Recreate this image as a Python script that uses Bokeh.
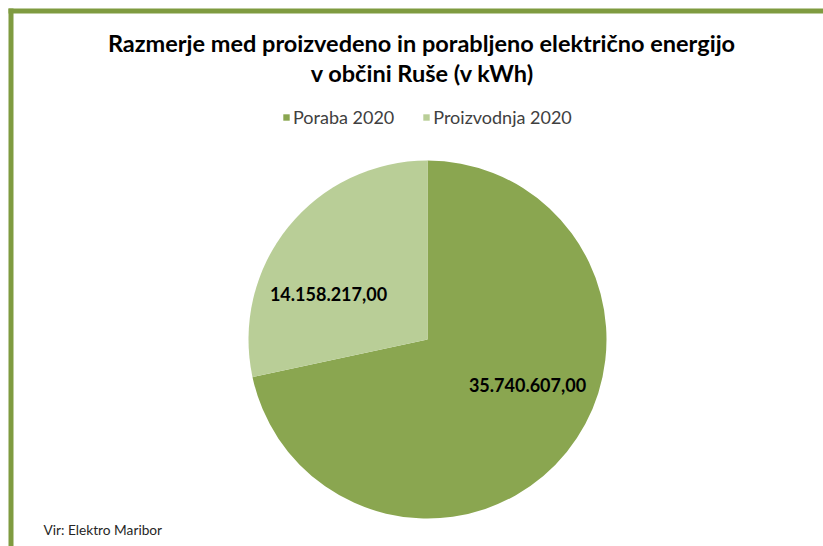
import math
from bokeh.plotting import figure
from bokeh.models import Range1d, Legend, LegendItem, ColumnDataSource, Label, BoxAnnotation
from bokeh.embed import file_html
from bokeh.resources import INLINE

# ---- data ----
categories = ["Poraba 2020", "Proizvodnja 2020"]
values_kwh = [35740607.00, 14158217.00]
value_labels = ["35.740.607,00", "14.158.217,00"]
colors = ["#8AA650", "#B9CE97"]

title_lines = ["Razmerje med proizvedeno in porabljeno električno energijo",
               "v občini Ruše (v kWh)"]
source_note = "Vir: Elektro Maribor"

# ---- layout ----
W, H = 823, 546
FONT = "Lato"
cx, cy, R = 427, H - 339, 179

total = sum(values_kwh)
starts, ends = [], []
a = math.pi / 2
for v in values_kwh:
    starts.append(a)
    a = a - v / total * 2 * math.pi
    ends.append(a)

src = ColumnDataSource(dict(cat=categories, val=values_kwh, start=starts, end=ends,
                            color=colors, lab=value_labels))

p = figure(width=W, height=H, output_backend="svg", toolbar_location=None,
           x_range=Range1d(0, W), y_range=Range1d(0, H), min_border=0,
           outline_line_color=None)
p.axis.visible = False
p.grid.visible = False
p.background_fill_color = "white"

r = p.wedge(x=cx, y=cy, radius=R, start_angle="start", end_angle="end",
            direction="clock", fill_color="color", line_color=None, source=src)

# data labels (positions relative to pie centre)
label_offsets = [(100, -45), (-99, 46)]
for lab, (dx, dy) in zip(value_labels, label_offsets):
    p.add_layout(Label(x=cx + dx, y=cy + dy, text=lab, text_font=FONT,
                       text_font_style="bold", text_font_size="18px",
                       text_align="center", text_baseline="middle", text_color="#000000"))

# title
p.add_layout(Label(x=421, y=H - 42, text=title_lines[0], text_font=FONT,
                   text_font_style="bold", text_font_size="23.5px", text_align="center",
                   text_baseline="alphabetic", text_color="#000000"))
p.add_layout(Label(x=422, y=H - 72, text=title_lines[1], text_font=FONT,
                   text_font_style="bold", text_font_size="23.5px", text_align="center",
                   text_baseline="alphabetic", text_color="#000000"))

# source
p.add_layout(Label(x=43, y=H - 529, text=source_note, text_font=FONT,
                   text_font_size="13.7px", text_align="left", text_baseline="alphabetic",
                   text_color="#262626"))

# legend
items = [LegendItem(label=c, renderers=[r], index=i) for i, c in enumerate(categories)]
legend = Legend(items=items, orientation="horizontal", location=(282, 418),
                label_text_font=FONT, label_text_font_size="18px",
                label_text_color="#404040", glyph_width=8, glyph_height=8,
                label_standoff=3, spacing=28, padding=0, margin=0,
                border_line_color=None, background_fill_alpha=0)
p.add_layout(legend, "center")

# chart border (top and left visible)
p.add_layout(BoxAnnotation(left=8, right=13, bottom=0, top=H - 8, fill_color="#7F9B40",
                           fill_alpha=1, line_color=None))
p.add_layout(BoxAnnotation(left=8, right=W, bottom=H - 13, top=H - 8, fill_color="#7F9B40",
                           fill_alpha=1, line_color=None))

open("out.html", "w").write(file_html(p, INLINE))
